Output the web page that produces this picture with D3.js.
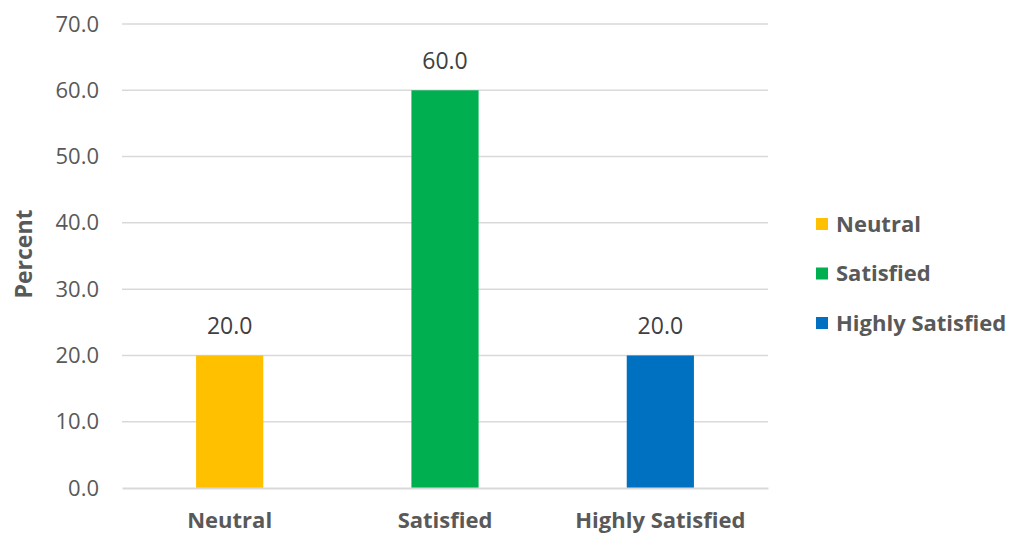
<!DOCTYPE html>
<html><head><meta charset="utf-8">
<script src="https://cdn.jsdelivr.net/npm/d3@7/dist/d3.min.js"></script>
<style>body{margin:0;background:#fff}svg{display:block}text{font-family:"Open Sans","Liberation Sans",sans-serif}</style>
</head><body><svg id="c" width="1014" height="537"></svg>
<script>
const categories = ["Neutral","Satisfied","Highly Satisfied"];
const values = [20.0, 60.0, 20.0];
const colors = ["#FFC000","#00B050","#0070C0"];
const yTicks = [0,10,20,30,40,50,60,70];
const yLabel = "Percent";

const svg = d3.select("#c");
const pL = 122, pR = 768, pT = 24, pB = 488;
const x = d3.scaleBand().domain(categories).range([pL, pR]).paddingInner(0.688).paddingOuter(0.344);
const y = d3.scaleLinear().domain([0,70]).range([pB, pT]);

// gridlines
svg.append("g").selectAll("line").data(yTicks.filter(d=>d>0)).join("line")
  .attr("x1", pL).attr("x2", pR).attr("y1", d=>y(d)).attr("y2", d=>y(d))
  .attr("stroke", "#d9d9d9").attr("stroke-width", 1.5);

// y axis labels
const ya = svg.append("g").attr("transform", `translate(${pL},0)`)
  .call(d3.axisLeft(y).tickValues(yTicks).tickFormat(d3.format(".1f")).tickSize(0).tickPadding(23));
ya.select(".domain").remove();
ya.selectAll("text").attr("font-size", 22).attr("fill", "#595959").attr("font-family", "'Open Sans',sans-serif");

// bars
svg.append("g").selectAll("rect").data(categories).join("rect")
  .attr("x", d=>x(d)).attr("width", x.bandwidth())
  .attr("y", (d,i)=>y(values[i])).attr("height", (d,i)=>y(0)-y(values[i]))
  .attr("fill", (d,i)=>colors[i]);

// x axis
const xa = svg.append("g").attr("transform", `translate(0,${pB})`)
  .call(d3.axisBottom(x).tickSize(0).tickPadding(24));
xa.select(".domain").attr("stroke", "#d9d9d9").attr("stroke-width", 2);
xa.selectAll("text").attr("font-size", 22).attr("font-weight", "bold").attr("fill", "#595959").attr("font-family", "'Open Sans',sans-serif");

// value labels
svg.append("g").selectAll("text").data(categories).join("text")
  .attr("x", d=>x(d)+x.bandwidth()/2).attr("y", (d,i)=>y(values[i])-21)
  .attr("text-anchor", "middle").attr("font-size", 23).attr("fill", "#404040")
  .text((d,i)=>d3.format(".1f")(values[i]));

// y label
svg.append("text").attr("transform", "translate(32,254) rotate(-90)")
  .attr("text-anchor", "middle").attr("font-size", 23).attr("font-weight", "bold").attr("fill", "#595959")
  .text(yLabel);

// legend
const lg = svg.append("g").selectAll("g").data(categories).join("g")
  .attr("transform", (d,i)=>`translate(816,${224 + i*49.5})`);
lg.append("rect").attr("x", 0).attr("y", -6).attr("width", 12).attr("height", 12).attr("fill", (d,i)=>colors[i]);
lg.append("text").attr("x", 20).attr("y", 0).attr("dy", "0.35em").attr("font-size", 22).attr("font-weight", "bold")
  .attr("fill", "#595959").text(d=>d);
</script></body></html>
